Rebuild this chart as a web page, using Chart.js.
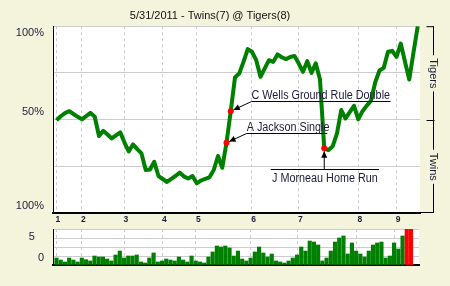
<!DOCTYPE html>
<html>
<head>
<meta charset="utf-8">
<script src="https://cdn.jsdelivr.net/npm/chart.js@4.4.1/dist/chart.umd.min.js"></script>
<style>
  html, body { margin: 0; padding: 0; background: #f4f3dc; }
  #wrap { position: relative; width: 450px; height: 286px; overflow: hidden; }
  #wp { position: absolute; left: 0; top: 0; }
  #lev { position: absolute; left: 0; top: 224px; }
</style>
</head>
<body>
<div id="wrap">
  <canvas id="wp" width="450" height="224"></canvas>
  <canvas id="lev" width="450" height="62"></canvas>
</div>
<script>
const title = '5/31/2011 - Twins(7) @ Tigers(8)'
const innings = ['1', '2', '3', '4', '5', '6', '7', '8', '9']
const inningStarts = [0, 6, 16, 25, 33, 46, 57, 71, 80]
const teams = ['Tigers', 'Twins']

// Tigers win probability (%) after each play
const winProb = [
  49.7, 51.8, 53.5, 54.5, 53.0, 51.5, 50.1, 51.9, 53.6, 51.5,
  41.2, 44.0, 42.0, 39.9, 41.6, 43.2, 37.7, 33.0, 36.7, 34.2,
  31.9, 23.0, 23.3, 27.4, 19.8, 18.2, 16.6, 18.3, 19.8, 21.6,
  19.5, 18.5, 19.8, 15.9, 17.4, 18.3, 19.1, 23.0, 30.5, 24.2,
  37.6, 54.5, 72.6, 74.7, 80.9, 87.7, 86.3, 81.8, 72.9, 77.4,
  81.8, 80.9, 84.9, 83.4, 82.4, 83.5, 84.1, 80.0, 75.6, 81.3,
  75.0, 80.1, 71.5, 34.6, 33.7, 35.8, 42.6, 55.1, 50.6, 54.0,
  57.4, 50.1, 54.5, 57.5, 60.1, 70.0, 76.3, 77.7, 86.3, 86.8,
  83.6, 90.7, 81.0, 71.5, 86.0, 100,
]
const probTicks = [100, 50, 0]
const probTickNames = ['100%', '50%', '100%']

// leverage of each play
const leverage = [
  0.97, 0.69, 0.42, 0.97, 0.69, 0.42, 0.97, 0.74, 0.56, 1.25,
  1.11, 1.11, 0.83, 0.56, 1.39, 1.94, 0.97, 1.25, 1.25, 1.39,
  0.42, 0.28, 0.97, 1.67, 0.42, 0.56, 0.83, 0.69, 0.56, 1.11,
  0.69, 0.42, 1.25, 0.56, 0.42, 0.28, 1.11, 1.81, 2.64, 2.50,
  2.64, 2.36, 1.25, 1.94, 0.83, 0.56, 0.97, 1.81, 2.50, 1.67,
  1.11, 1.53, 0.56, 0.42, 0.28, 0.56, 0.97, 1.39, 2.50, 1.94,
  3.33, 3.19, 2.78, 0.56, 0.97, 1.94, 3.19, 3.75, 4.03, 1.53,
  3.06, 1.94, 1.53, 1.11, 1.94, 2.78, 3.06, 3.19, 0.97, 1.25,
  3.06, 2.22, 4.03, 6.20, 6.10,
]
const levTicks = [5, 0]
const levTickNames = ['5', '0']

const keyPlays = [41, 40, 63]
const keyPlayText = ['C Wells Ground Rule Double', 'A Jackson Single', 'J Morneau Home Run']

const FONT = "'Liberation Sans', Arial, sans-serif"
const GREEN = '#008000'
const GRID = '#cccccc'
const INK = '#1c1c3c'

const plotBg = {
  id: 'plotBg',
  beforeDraw(chart) {
    const { ctx, chartArea: a } = chart
    ctx.save()
    ctx.fillStyle = '#ffffff'
    ctx.fillRect(a.left, a.top, a.right - a.left, a.bottom - a.top)
    ctx.restore()
  }
}

// keep the label axis from reserving room above and below the plot
function fixLabelAxis(s) {
  s.width = 53
  s.paddingTop = 0
  s.paddingBottom = 0
}

function arrow(ctx, x1, y1, x2, y2, gap) {
  const ang = Math.atan2(y2 - y1, x2 - x1)
  const ex = x2 - Math.cos(ang) * gap
  const ey = y2 - Math.sin(ang) * gap
  ctx.beginPath()
  ctx.moveTo(x1, y1)
  ctx.lineTo(ex, ey)
  ctx.stroke()
  ctx.beginPath()
  ctx.moveTo(ex, ey)
  ctx.lineTo(ex - Math.cos(ang - 0.45) * 7, ey - Math.sin(ang - 0.45) * 7)
  ctx.lineTo(ex - Math.cos(ang + 0.45) * 7, ey - Math.sin(ang + 0.45) * 7)
  ctx.closePath()
  ctx.fill()
}

function narrowText(ctx, text, x, y, squeeze) {
  ctx.save()
  ctx.translate(x, y)
  ctx.scale(squeeze, 1)
  ctx.fillText(text, 0, 0)
  ctx.restore()
}

const keyPlayNotes = {
  id: 'keyPlayNotes',
  afterDatasetsDraw(chart, args, opts) {
    const { ctx, scales: { x, y } } = chart
    ctx.save()
    ctx.font = opts.font
    ctx.strokeStyle = '#000'
    ctx.lineWidth = 1
    keyPlays.forEach((idx, n) => {
      const spot = opts.spots[n]
      const px = x.getPixelForValue(idx)
      const py = y.getPixelForValue(winProb[idx])
      const x1 = x.getPixelForValue(spot.from)
      const x2 = x.getPixelForValue(spot.to)
      const ly = Math.round(y.getPixelForValue(spot.at)) + 0.5
      ctx.beginPath()
      ctx.moveTo(x1, ly)
      ctx.lineTo(x2, ly)
      ctx.stroke()
      ctx.fillStyle = opts.color
      if (spot.below) {
        ctx.textAlign = 'center'
        ctx.textBaseline = 'top'
        narrowText(ctx, keyPlayText[n], (x1 + x2) / 2, ly + 3, opts.squeeze)
        ctx.fillStyle = '#000'
        arrow(ctx, px, ly, px, py, 3)
      } else {
        ctx.textAlign = 'left'
        ctx.textBaseline = 'alphabetic'
        narrowText(ctx, keyPlayText[n], x1, ly - 2.5, opts.squeeze)
        ctx.fillStyle = '#000'
        arrow(ctx, x1, ly, px, py, 3)
      }
    })
    ctx.restore()
  }
}

const teamBracket = {
  id: 'teamBracket',
  afterDraw(chart, args, opts) {
    const { ctx, chartArea: { top, bottom, right }, scales: { y } } = chart
    const mid = Math.round(y.getPixelForValue(50)) + 0.5
    const bx = Math.round(right + opts.offset) + 0.5
    ctx.save()
    ctx.strokeStyle = '#000'
    ctx.lineWidth = 1
    ctx.font = opts.font
    ctx.fillStyle = opts.color
    ctx.beginPath()
    ctx.moveTo(bx - 7, top + 0.5); ctx.lineTo(bx, top + 0.5)
    ctx.moveTo(bx - 7, mid); ctx.lineTo(bx + 1, mid)
    ctx.moveTo(right, bottom - 0.5); ctx.lineTo(bx, bottom - 0.5)
    const spans = [[top, mid], [mid, bottom]]
    spans.forEach(([a, b], i) => {
      const c = (a + b) / 2
      const half = ctx.measureText(teams[i]).width / 2 + 3
      ctx.moveTo(bx, a); ctx.lineTo(bx, c - half)
      ctx.moveTo(bx, c + half); ctx.lineTo(bx, b)
    })
    ctx.stroke()
    spans.forEach(([a, b], i) => {
      ctx.save()
      ctx.translate(bx, (a + b) / 2)
      ctx.rotate(Math.PI / 2)
      ctx.textAlign = 'center'
      ctx.textBaseline = 'middle'
      ctx.fillText(teams[i], 0, 0)
      ctx.restore()
    })
    ctx.restore()
  }
}

new Chart(document.getElementById('wp'), {
  type: 'line',
  data: {
    datasets: [{
      data: winProb.map((v, i) => ({ x: i, y: v })),
      borderColor: GREEN,
      borderWidth: 4,
      borderJoinStyle: 'round',
      tension: 0,
      pointRadius: ctx => keyPlays.includes(ctx.dataIndex) ? 3 : 0,
      pointBackgroundColor: '#ff0000',
      pointBorderWidth: 0,
    }]
  },
  options: {
    responsive: false,
    devicePixelRatio: 1,
    animation: false,
    layout: { padding: { right: 30 } },
    plugins: {
      legend: { display: false },
      tooltip: { enabled: false },
      title: {
        display: true,
        text: title,
        color: '#111',
        font: { family: FONT, size: 11, weight: 'normal' },
        padding: { top: 9, bottom: 4 },
      },
      keyPlayNotes: {
        font: `12px ${FONT}`,
        squeeze: 0.9,
        color: INK,
        spots: [
          { from: 45.9, to: 78.6, at: 59.9, below: false },
          { from: 44.75, to: 63.7, at: 42.9, below: false },
          { from: 50.4, to: 75.9, at: 23.5, below: true },
        ],
      },
      teamBracket: { offset: 12.5, font: `11px ${FONT}`, color: INK },
    },
    scales: {
      x: {
        type: 'linear',
        min: -0.82,
        max: 85.53,
        afterBuildTicks: s => { s.ticks = inningStarts.map(v => ({ value: v })) },
        afterFit: s => { s.height = 11 },
        ticks: {
          autoSkip: false,
          maxRotation: 0,
          padding: 2,
          labelOffset: 1.5,
          color: INK,
          font: { family: FONT, size: 8.5, weight: 'bold' },
          callback: (v, i) => innings[i],
        },
        grid: { color: GRID, drawTicks: false },
        border: { color: '#000', width: 2, dash: [3, 3] },
      },
      y: {
        min: 0,
        max: 100,
        afterFit: s => { s.width = 0 },
        ticks: { display: false, stepSize: 25 },
        grid: { color: GRID, drawTicks: false },
        border: { color: '#000', width: 1 },
      },
      yl: {
        position: 'left',
        weight: 1,
        min: 0,
        max: 100,
        afterBuildTicks: s => {
          const shift = [-3.5, 4.2, 4]
          s.ticks = probTicks.map((v, i) => ({ value: v + shift[i] }))
        },
        afterFit: fixLabelAxis,
        ticks: {
          padding: 9,
          color: INK,
          font: { family: FONT, size: 11 },
          callback: (v, i) => probTickNames[i],
        },
        grid: { display: false, drawTicks: false },
        border: { display: false },
      },
    }
  },
  plugins: [plotBg, keyPlayNotes, teamBracket]
})

new Chart(document.getElementById('lev'), {
  type: 'bar',
  data: {
    datasets: [{
      data: leverage.map((v, i) => ({ x: i, y: v })),
      backgroundColor: ctx => ctx.raw && ctx.raw.y > 5 ? '#ff0000' : GREEN,
      barThickness: 3.5,
      borderWidth: 0,
    }]
  },
  options: {
    responsive: false,
    devicePixelRatio: 1,
    animation: false,
    layout: { padding: { top: 5, right: 31, bottom: 21 } },
    plugins: {
      legend: { display: false },
      tooltip: { enabled: false },
    },
    scales: {
      x: {
        type: 'linear',
        offset: false,
        min: -0.83,
        max: 85.9,
        afterBuildTicks: s => { s.ticks = inningStarts.map(v => ({ value: v })) },
        afterFit: s => { s.height = 0 },
        ticks: { display: false },
        grid: { color: GRID, drawTicks: false, offset: false },
        border: { color: '#000', width: 2, dash: [3, 3] },
      },
      y: {
        min: 0,
        max: 5,
        afterFit: s => { s.width = 0 },
        ticks: { display: false, stepSize: 1.25 },
        grid: { color: GRID, drawTicks: false },
        border: { color: '#000', width: 1 },
      },
      yl: {
        position: 'left',
        weight: 1,
        min: 0,
        max: 5,
        afterBuildTicks: s => {
          const shift = [-1.1, 0.97]
          s.ticks = levTicks.map((v, i) => ({ value: v + shift[i] }))
        },
        afterFit: fixLabelAxis,
        ticks: {
          padding: 9,
          color: INK,
          font: { family: FONT, size: 11 },
          callback: (v, i) => levTickNames[i] + (i === 0 ? '   ' : ''),
        },
        grid: { display: false, drawTicks: false },
        border: { display: false },
      },
    }
  },
  plugins: [plotBg]
})
</script>
</body>
</html>
